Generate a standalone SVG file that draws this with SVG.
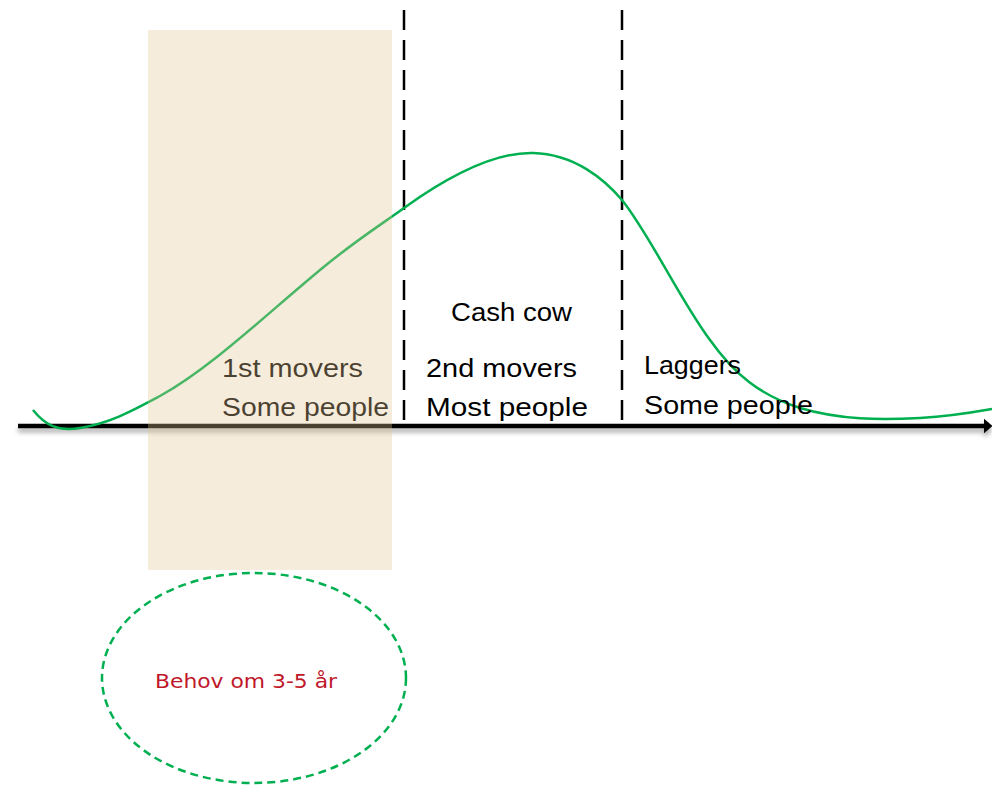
<svg xmlns="http://www.w3.org/2000/svg" width="992" height="785" viewBox="0 0 992 785">
<defs>
<style>
.lbl{font-family:"Liberation Sans",Arial,sans-serif;font-size:26px;fill:#000}
.dash{stroke:#000;stroke-width:2.5;stroke-dasharray:20 10;fill:none}
</style>
<marker id="ah" markerWidth="4" markerHeight="4" refX="1" refY="2" orient="auto" markerUnits="strokeWidth">
<path d="M0,0.3 L2,2 L0,3.7 Z" fill="#000"/>
</marker>
<filter id="sh" filterUnits="userSpaceOnUse" x="0" y="400" width="992" height="60">
<feGaussianBlur in="SourceAlpha" stdDeviation="2.5"/>
<feOffset dy="4"/>
<feComponentTransfer><feFuncA type="linear" slope="0.35"/></feComponentTransfer>
<feMerge><feMergeNode/><feMergeNode in="SourceGraphic"/></feMerge>
</filter>
</defs>
<rect width="992" height="785" fill="#fff"/>
<g id="connectors">
<line x1="18" y1="426" x2="988" y2="426" stroke="#000" stroke-width="4.5" marker-end="url(#ah)" filter="url(#sh)"/>
<line class="dash" x1="404" y1="10" x2="404" y2="422"/>
<line class="dash" x1="622" y1="10" x2="622" y2="422"/>
<path d="M33,410 C45,425 58,432 80,428 C110,423 130,412 160,396 C210,368 260,320 320,270 C356,240 385,222 404,208 C450,175 495,152 533,153 C575,154 605,180 622,200 C650,235 680,300 710,340 C735,375 760,395 800,408 C840,420 880,420 920,418 C955,416 975,412 992,409" fill="none" stroke="#00b050" stroke-width="2.5"/>
</g>
<g id="cashcow"><text class="lbl" x="451" y="321" textLength="121" lengthAdjust="spacingAndGlyphs">Cash cow</text></g>
<g id="first">
<text class="lbl" x="222" y="377" textLength="141" lengthAdjust="spacingAndGlyphs">1st movers</text>
<text class="lbl" x="222" y="416" textLength="167" lengthAdjust="spacingAndGlyphs">Some people</text>
</g>
<g id="second">
<text class="lbl" x="426" y="377" textLength="151" lengthAdjust="spacingAndGlyphs">2nd movers</text>
<text class="lbl" x="426" y="416" textLength="162" lengthAdjust="spacingAndGlyphs">Most people</text>
</g>
<g id="laggers">
<text class="lbl" x="644" y="374" textLength="97" lengthAdjust="spacingAndGlyphs">Laggers</text>
<text class="lbl" x="644" y="414" textLength="169" lengthAdjust="spacingAndGlyphs">Some people</text>
</g>
<g id="highlight"><rect x="148" y="30" width="244" height="540" fill="#e3c596" fill-opacity="0.33"/></g>
<g id="behov">
<ellipse cx="254" cy="678" rx="152" ry="105" fill="none" stroke="#00b050" stroke-width="2.5" stroke-dasharray="8 5"/>
<text x="155" y="688" font-family="'DejaVu Sans',Verdana,sans-serif" font-size="19" fill="#c0182a" textLength="182" lengthAdjust="spacingAndGlyphs">Behov om 3-5 år</text>
</g>
</svg>
